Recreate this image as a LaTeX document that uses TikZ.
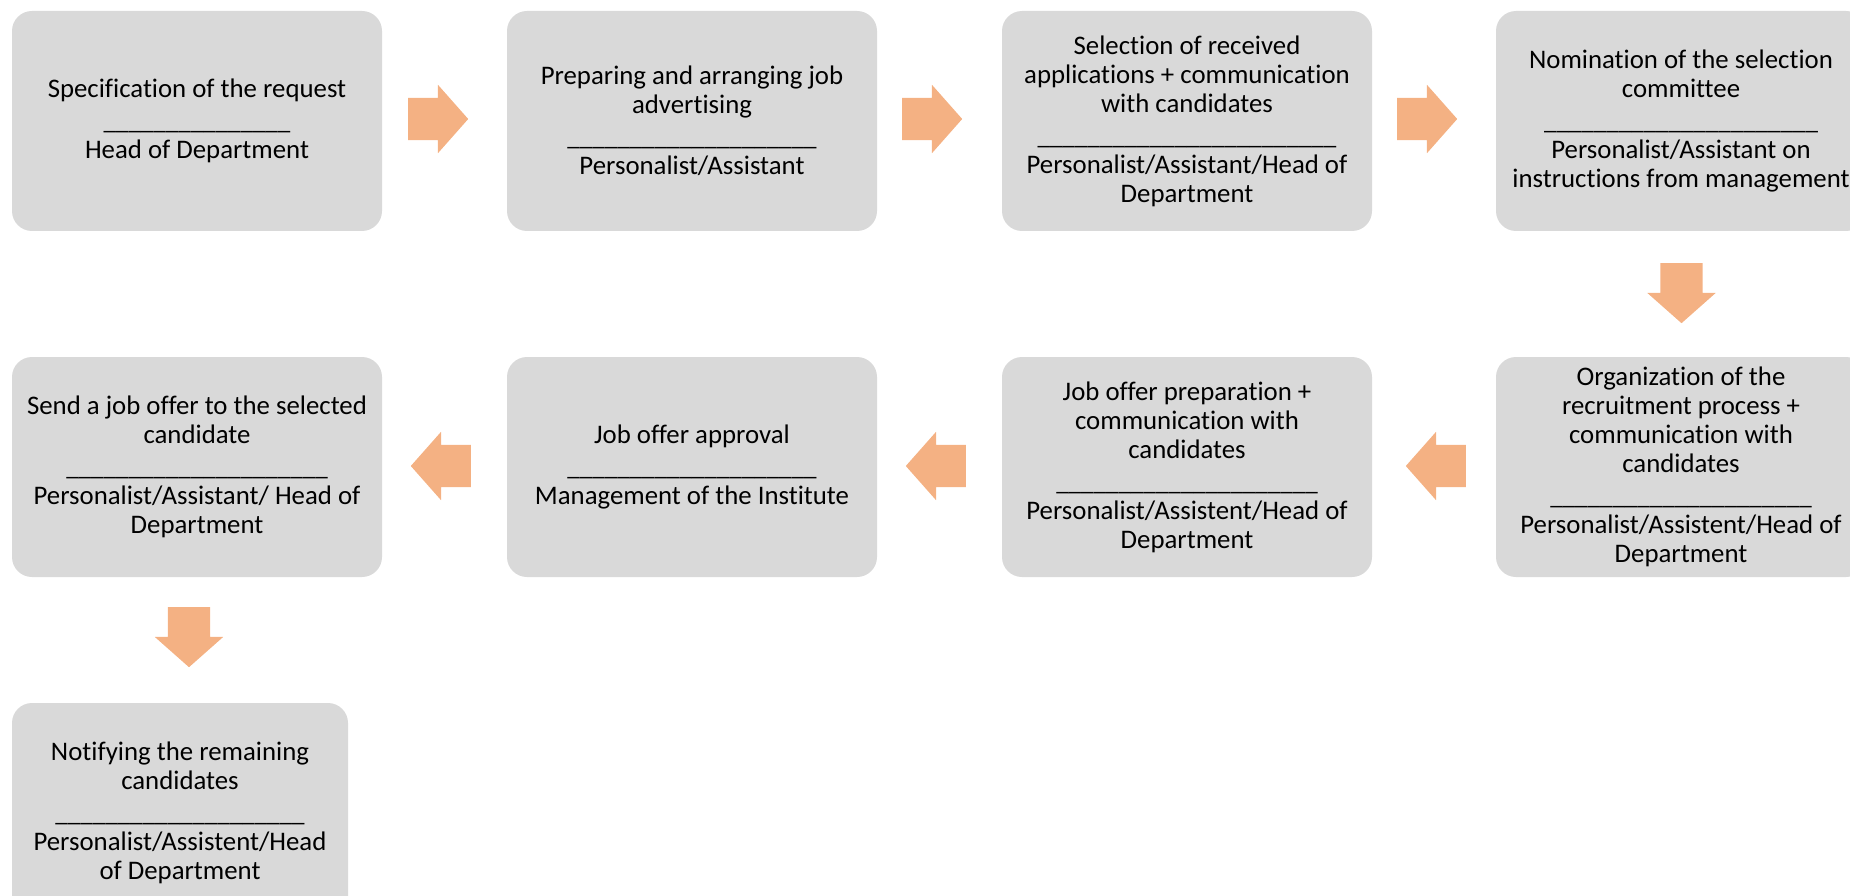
\documentclass[tikz,border=0pt]{standalone}
\usepackage{fontspec}
\setmainfont{Carlito}[Ligatures=NoCommon]
\usetikzlibrary{shapes.arrows}
\definecolor{boxgray}{HTML}{D9D9D9}
\definecolor{arroworange}{HTML}{F4B183}
\newcount\ulcnt
\newcommand\ulrow[1]{{\fontsize{25}{29}\selectfont\ulcnt=0 \loop\ifnum\ulcnt<#1\relax\_\advance\ulcnt by 1\relax\repeat}}
\tikzset{
  stepbox/.style={rectangle, rounded corners=20pt, fill=boxgray, draw=none,
    minimum width=370pt, minimum height=220pt, align=center, inner sep=0pt,
    text=black, font=\fontsize{26.8}{29}\selectfont},
  flowarrow/.style={single arrow, fill=arroworange, draw=none,
    minimum height=60pt, minimum width=0pt, inner xsep=0pt, inner ysep=21pt,
    text height=0pt, text depth=0pt, text width=0pt,
    single arrow head extend=13pt, single arrow tip angle=97, anchor=tail}
}
\begin{document}
\begin{tikzpicture}[x=1pt,y=-1pt]
\useasboundingbox (0,0) rectangle (1850,896);
\clip (0,0) rectangle (1850,896);
% row 1
\node[stepbox] (b1) at (197,121) {Specification of the request\\[3pt]\ulrow{15}\\Head of Department};
\node[stepbox] (b2) at (692,121) {Preparing and arranging job\\advertising\\[3pt]\ulrow{20}\\Personalist/Assistant};
\node[stepbox] (b3) at (1187,121) {Selection of received\\applications + communication\\with candidates\\[3pt]\ulrow{24}\\Personalist/Assistant/Head of\\Department};
\node[stepbox] (b4) at (1681,121) {Nomination of the selection\\committee\\[3pt]\ulrow{22}\\Personalist/Assistant on\\instructions from management};
% row 2
\node[stepbox] (b5) at (1681,467) {Organization of the\\recruitment process +\\communication with\\candidates\\[3pt]\ulrow{21}\\Personalist/Assistent/Head of\\Department};
\node[stepbox] (b6) at (1187,467) {Job offer preparation +\\communication with\\candidates\\[3pt]\ulrow{21}\\Personalist/Assistent/Head of\\Department};
\node[stepbox] (b7) at (692,467) {Job offer approval\\[3pt]\ulrow{20}\\Management of the Institute};
\node[stepbox] (b8) at (197,467) {Send a job offer to the selected\\candidate\\[3pt]\ulrow{21}\\Personalist/Assistant/ Head of\\Department};
% row 3
\node[stepbox, minimum width=336pt] (b9) at (180,813) {Notifying the remaining\\candidates\\[3pt]\ulrow{20}\\Personalist/Assistent/Head\\of Department};
% arrows (placed by their tails)
\node[flowarrow] (a12) at (408,119) {};
\node[flowarrow] (a23) at (902,119) {};
\node[flowarrow] (a34) at (1397,119) {};
\node[flowarrow, rotate=-90] (a45) at (1681.5,263) {};
\node[flowarrow, rotate=180] (a56) at (1466,466) {};
\node[flowarrow, rotate=180] (a67) at (966,466) {};
\node[flowarrow, rotate=180] (a78) at (471,466) {};
\node[flowarrow, rotate=-90] (a89) at (189,607) {};
\end{tikzpicture}
\end{document}
